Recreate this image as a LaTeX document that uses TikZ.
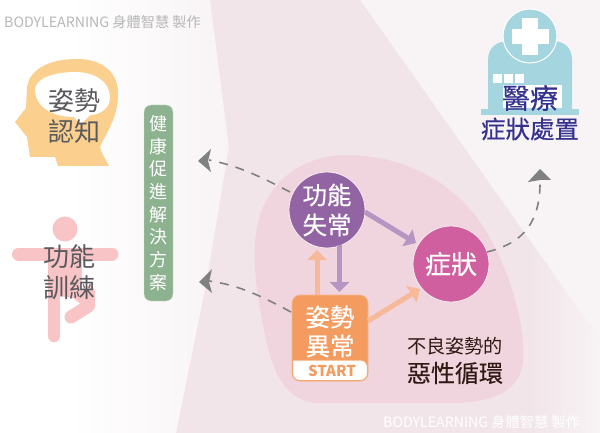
\documentclass[tikz,border=0pt]{standalone}
\usepackage{fontspec}
\setmainfont{Noto Sans CJK TC}
\newfontfamily\medf{Noto Sans CJK TC}[FakeBold=0.35]
\usetikzlibrary{arrows.meta,calc}
\definecolor{bandA}{HTML}{F1E5E9}
\definecolor{bandB}{HTML}{F8F3F5}
\definecolor{blob}{HTML}{F0D4DE}
\definecolor{txtgrey}{HTML}{5A5A5E}
\definecolor{headc}{HTML}{FBCF8E}
\definecolor{bodyc}{HTML}{F9C4C6}
\definecolor{greenc}{HTML}{8DB28F}
\definecolor{purplec}{HTML}{9264A4}
\definecolor{magc}{HTML}{D05FA0}
\definecolor{orangec}{HTML}{F49B60}
\definecolor{orangeline}{HTML}{F2A86E}
\definecolor{arrorange}{HTML}{F6B999}
\definecolor{arrpurple}{HTML}{B795C2}
\definecolor{hospc}{HTML}{A5D6E0}
\definecolor{navy}{HTML}{35328F}
\definecolor{dashc}{HTML}{808080}
\definecolor{capc}{HTML}{2F1A14}
\tikzset{
  px/.style={x=1pt,y=-1pt},
  bigtxt/.style={font=\fontsize{26}{31}\selectfont,align=center,inner sep=0pt},
  dashline/.style={draw=dashc,line width=1.6pt,dash pattern=on 9pt off 8pt},
  fat/.style={line width=5pt,-{Triangle[length=10pt,width=19pt]}},
  circ/.style={circle,draw=white!60!blob,line width=.8pt,minimum size=76pt,inner sep=0pt,text=white,align=center},
  wmark/.style={anchor=west,inner sep=0pt,font=\fontsize{14.2}{17}\selectfont}
}
\begin{document}
\begin{tikzpicture}[px]
\useasboundingbox (0,0) rectangle (600,433);
\fill[white] (0,0) rectangle (600,433);
% background
\shade[left color=white,right color=bandB] (70,0) rectangle (235,433);
\fill[bandB] (225,0) rectangle (600,433);
\fill[bandA] (210,0) -- (360,0) -- (600,340) -- (600,433) -- (176,433) -- (205,290) -- (222,190) -- (229,147) -- cycle;
\begin{scope}
\clip (360,0) -- (600,340) -- (600,433) -- (480,433) -- cycle;
\shade[left color=bandA,right color=bandB] (530,200) rectangle (600,433);
\end{scope}
% blob
\fill[blob] (345,155) .. controls (400,155) and (445,178) .. (475,215)
  .. controls (505,255) and (526,320) .. (523,360)
  .. controls (521,390) and (495,403) .. (450,403)
  -- (320,403) .. controls (285,403) and (272,370) .. (265,335)
  .. controls (258,300) and (253,270) .. (255,243)
  .. controls (258,190) and (295,156) .. (345,155) -- cycle;
% watermarks
\node[wmark,text=black!28] (markA) at (4,22) {BODYLEARNING 身體智慧 製作};
\node[wmark,text=white] (markB) at (383,422) {BODYLEARNING 身體智慧 製作};
% head
\fill[headc] (15,122) -- (26,108) -- (27,87) .. controls (29,72) and (45,59) .. (77,59)
  .. controls (105,59) and (119,75) .. (118,95)
  .. controls (118,118) and (105,135) .. (100,147) -- (102,153) -- (109,166) -- (58,166) -- (55,157) -- (30,157) -- (27,137) -- cycle;
\fill[white] (35,90) .. controls (35,78) and (55,72) .. (75,72)
  .. controls (95,72) and (110,82) .. (110,97)
  .. controls (110,110) and (98,115) .. (90,115)
  -- (80,125) -- (74,117) .. controls (50,117) and (35,105) .. (35,90) -- cycle;
\node[bigtxt,text=txtgrey] (headtxt) at (74,116) {姿勢\\認知};
% figure
\fill[bodyc] (65,229) circle (12.5);
\draw[bodyc,line width=13pt,line cap=round] (18.5,254) -- (112,254);
\fill[bodyc] (48,254) rectangle (82,296);
\fill[bodyc] (60,296) -- (73,298) -- (82,305) -- (82,296) -- cycle;
\draw[bodyc,line width=12.5pt,line cap=round] (54,290) -- (54,336);
\draw[bodyc,line width=13pt,line cap=round,line join=round] (88.5,292) -- (88.5,306) -- (71,317);
\node[bigtxt,text=txtgrey] (bodytxt) at (69,272) {功能\\訓練};
% green bar
\node[fill=greenc,draw=white!60!greenc,line width=.4pt,rounded corners=7pt,minimum width=29pt,minimum height=196pt,inner sep=0pt,text=white,font=\fontsize{18}{22.7}\selectfont,align=center] (bar) at (158.5,203) {健\\康\\促\\進\\解\\決\\方\\案};
% circles
\node[circ,fill=purplec,font=\medf\fontsize{24.5}{30}\selectfont] (func) at (327,210) {功能\\失常};
\node[circ,fill=magc,font=\medf\fontsize{26}{30}\selectfont] (symp) at (451,264) {症狀};
% orange box
\node[fill=orangec,rounded corners=8pt,draw=white!30!orangec,line width=.6pt,minimum width=76pt,minimum height=86pt,inner sep=0pt] (pose) at (330,338) {};
\path[fill=white,draw=orangeline,line width=1pt,rounded corners=7pt] (292.5,360) -- (292.5,380.5) -- (367.5,380.5) -- (367.5,360) [sharp corners] -- cycle;
\node[text=white,inner sep=0pt,font=\medf\fontsize{24.5}{29}\selectfont,align=center] (posetxt) at (330,331.5) {姿勢\\異常};
\node[text=orangec,inner sep=0pt,font=\fontsize{15}{16}\bfseries\selectfont] (start) at (332,371) {START};
% arrows
\coordinate (a1s) at (317,295); \coordinate (a1e) at (317,250);
\coordinate (a2s) at (339.5,245); \coordinate (a2e) at (339.5,292);
\coordinate (a3s) at (365,212); \coordinate (a3e) at (416,243);
\coordinate (a4s) at (368,321); \coordinate (a4e) at (420,289);
\draw[fat,draw=arrorange,color=arrorange] (a1s) -- (a1e);
\draw[fat,draw=arrpurple,color=arrpurple] (a2s) -- (a2e);
\draw[fat,draw=arrpurple,color=arrpurple] (a3s) -- (a3e);
\draw[fat,draw=arrorange,color=arrorange] (a4s) -- (a4e);
% caption
\node[inner sep=0pt,text=capc,font=\fontsize{19.2}{22}\selectfont] (cap1) at (455,346) {不良姿勢的};
\node[inner sep=0pt,text=capc,font=\medf\fontsize{24}{27}\selectfont] (cap2) at (455,373) {惡性循環};
% hospital
\fill[hospc] (488,113) -- (488,60) .. controls (488,47) and (497,41) .. (510,41) -- (552,41) .. controls (565,41) and (572,48) .. (572,60) -- (572,113) -- cycle;
\fill[hospc] (481,109) rectangle (579,115);
\fill[hospc] (530,36) circle (27);
\draw[white,line width=1pt] (530,36) circle (27);
\fill[white] (522,18) rectangle (538,55);
\fill[white] (512,29) rectangle (549,44);
\foreach \xx in {493,504,515} \fill[white] (\xx,74) rectangle ++(9,9);
\fill[white] (503,85) rectangle (562,108);
\node[inner sep=0pt,text=navy,font=\medf\fontsize{28}{30}\selectfont] (hosp1) at (530,98) {醫療};
\node[inner sep=0pt,text=navy,font=\medf\fontsize{24.5}{27}\selectfont] (hosp2) at (530,129) {症狀處置};
% dashed connectors
\coordinate (tipA) at (198,161);
\coordinate (tipB) at (199,282);
\coordinate (tipC) at (540,169);
\draw[dashline] (290,192) .. controls (265,179) and (240,166) .. (209,160);
\fill[dashc] (tipA) -- (211,149) -- (208,161) -- (211,172) -- cycle;
\draw[dashline] (291,312) .. controls (265,298) and (240,285) .. (209,281);
\fill[dashc] (tipB) -- (212,269) -- (209,282) -- (212,293) -- cycle;
\draw[dashline] (487,252) .. controls (515,245) and (541,230) .. (540,180);
\fill[dashc] (tipC) -- (528,182) -- (540,180) -- (551,180) -- cycle;
\end{tikzpicture}
\end{document}
